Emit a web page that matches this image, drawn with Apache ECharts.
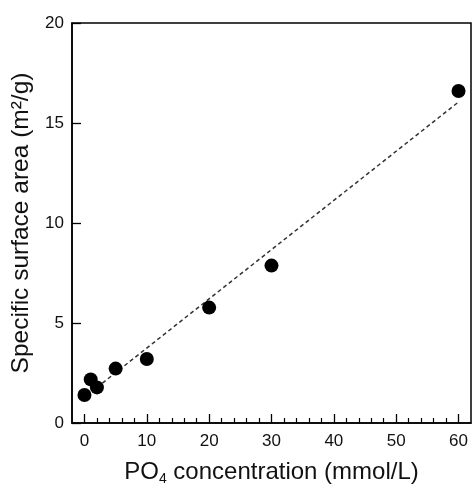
<!DOCTYPE html>
<html>
<head>
<meta charset="utf-8">
<script src="https://cdn.jsdelivr.net/npm/echarts@6/dist/echarts.min.js"></script>
<style>html,body{margin:0;padding:0;background:#fff}#c{width:474px;height:484px}</style>
</head>
<body>
<div id="c"></div>
<script>
// Data
const concentration = [0, 1, 2, 5, 10, 20, 30, 60];
const surfaceArea = [1.4, 2.18, 1.78, 2.72, 3.2, 5.77, 7.87, 16.6];
// Dashed linear fit endpoints
const fitX = [2, 60];
const fitY = [1.78, 16.05];
const xMajorTicks = [0, 10, 20, 30, 40, 50, 60];
const xMinorTicks = [2, 4, 6, 8, 12, 14, 16, 18, 22, 24, 26, 28, 32, 34, 36, 38, 42, 44, 46, 48, 52, 54, 56, 58];
const yTicks = [0, 5, 10, 15, 20];

const FONT = "'Liberation Sans', Arial, sans-serif";
const chart = echarts.init(document.getElementById('c'), null, {renderer: 'canvas'});
chart.setOption({
  backgroundColor: '#fff',
  animation: false,
  grid: {left: 72, top: 23, right: 3, bottom: 61, outerBoundsMode: 'none', containLabel: false, show: true, borderColor: '#000', borderWidth: 1.5, backgroundColor: 'transparent'},
  xAxis: [{
    type: 'value', min: -2, max: 62, position: 'bottom',
    splitLine: {show: false},
    axisLine: {show: true, onZero: false, lineStyle: {color: '#000', width: 1.5}},
    axisTick: {show: true, inside: true, length: 9, customValues: xMajorTicks, lineStyle: {color: '#000', width: 1.3}},
    axisLabel: {show: true, customValues: xMajorTicks, margin: 10, color: '#111', fontSize: 17, fontFamily: FONT},
    name: '{a|PO}{s|4}{a| concentration (mmol/L)}',
    nameLocation: 'middle', nameGap: 37,
    nameTextStyle: {color: '#111', fontFamily: FONT, rich: {a: {fontSize: 24, fontFamily: FONT, color: '#111'}, s: {fontSize: 14, fontFamily: FONT, color: '#111', verticalAlign: 'bottom', padding: [0, 0, -2, 0]}}}
  }, {
    type: 'value', min: -2, max: 62, position: 'bottom', offset: 0,
    splitLine: {show: false},
    axisLine: {show: false, onZero: false},
    axisTick: {show: true, inside: true, length: 5, customValues: xMinorTicks, lineStyle: {color: '#000', width: 1.2}},
    axisLabel: {show: false}
  }],
  yAxis: [{
    type: 'value', min: 0, max: 20, interval: 5,
    splitLine: {show: false},
    axisLine: {show: true, onZero: false, lineStyle: {color: '#000', width: 1.5}},
    axisTick: {show: true, inside: true, length: 9, customValues: yTicks, lineStyle: {color: '#000', width: 1.3}},
    axisLabel: {margin: 8, color: '#111', fontSize: 17, fontFamily: FONT, customValues: yTicks},
    name: 'Specific surface area (m²/g)',
    nameLocation: 'middle', nameGap: 33,
    nameTextStyle: {color: '#111', fontSize: 24.5, fontFamily: FONT}
  }],
  series: [{
    type: 'line', xAxisIndex: 0, yAxisIndex: 0,
    data: fitX.map((x, i) => [x, fitY[i]]),
    symbol: 'none', silent: true,
    lineStyle: {color: '#333', width: 1.5, type: [4, 3]},
    z: 1
  }, {
    type: 'scatter', xAxisIndex: 0, yAxisIndex: 0,
    data: concentration.map((x, i) => [x, surfaceArea[i]]),
    symbol: 'circle', symbolSize: 14,
    itemStyle: {color: '#000', opacity: 1},
    z: 2
  }]
});
</script>
</body>
</html>
